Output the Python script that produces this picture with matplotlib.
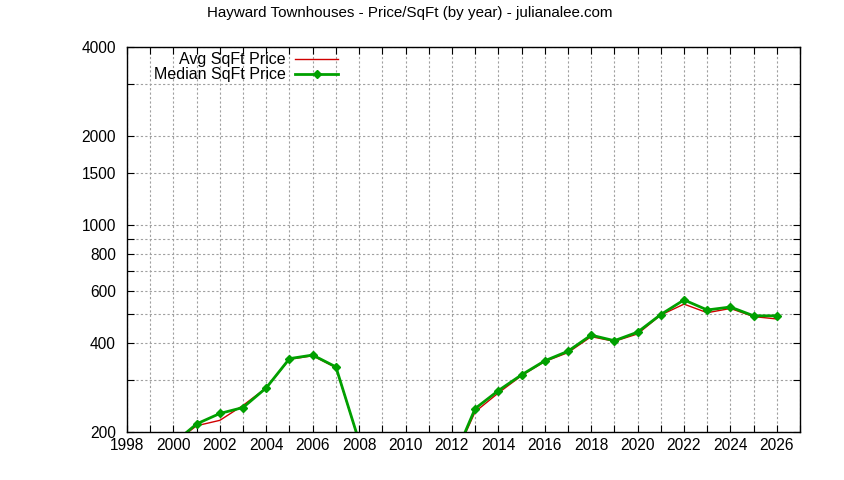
import matplotlib
matplotlib.use("Agg")
import matplotlib.pyplot as plt
from matplotlib.ticker import FixedLocator, FixedFormatter, NullFormatter, MultipleLocator

# -----------------------------
# Data
# -----------------------------
years = list(range(2000, 2027))

avg_price = [183, 210, 219, 246, 282, 352, 362, 330, 186, 150, 140, 145, 157,
             234, 271, 310, 346, 371, 420, 405, 429, 497, 541, 506, 523, 491, 482]

median_price = [183, 213, 231, 242, 282, 354, 364, 332, 186, 150, 140, 145, 157,
                240, 276, 312, 348, 375, 425, 407, 435, 499, 559, 517, 529, 494, 494]

y_labeled = [200, 400, 600, 800, 1000, 1500, 2000, 4000]
y_minor = [300, 500, 700, 900, 3000]

title = "Hayward Townhouses - Price/SqFt (by year) - julianalee.com"

# -----------------------------
# Figure
# -----------------------------
plt.rcParams["font.family"] = ["Liberation Sans", "DejaVu Sans"]

fig = plt.figure(figsize=(8.44, 4.8), dpi=100)
ax = fig.add_axes([0.1505, 0.1, 0.7974, 0.802])

ax.plot(years, avg_price, color="#d00000", linewidth=1.0, label="Avg SqFt Price")
ax.plot(years, median_price, color="#00a000", linewidth=2.0, marker="D",
        markersize=4, label="Median SqFt Price")

ax.set_yscale("log")
ax.set_ylim(200, 4000)
ax.set_xlim(1998, 2027)

ax.yaxis.set_major_locator(FixedLocator(y_labeled))
ax.yaxis.set_major_formatter(FixedFormatter([str(v) for v in y_labeled]))
ax.yaxis.set_minor_locator(FixedLocator(y_minor))
ax.yaxis.set_minor_formatter(NullFormatter())

ax.xaxis.set_major_locator(MultipleLocator(2))
ax.xaxis.set_minor_locator(MultipleLocator(1))

ax.grid(True, which="both", color="#a0a0a0", linestyle=(0, (2, 2)), linewidth=0.8)

ax.tick_params(which="both", direction="in", top=True, right=True,
               labelsize=11.2, length=5, width=0.8, colors="black")
ax.tick_params(axis="y", pad=8)
ax.tick_params(axis="x", pad=4)

for spine in ax.spines.values():
    spine.set_linewidth(1.0)
    spine.set_color("black")

fig.text(0.485, 0.972, title, ha="center", va="center", fontsize=10.9)

ax.legend(loc="upper right", bbox_to_anchor=(0.333, 1.02), frameon=False,
          markerfirst=False, fontsize=11.5, handlelength=2.7, handletextpad=0.6,
          labelspacing=0.0, borderpad=0.3)

fig.savefig("out.png", dpi=100)
